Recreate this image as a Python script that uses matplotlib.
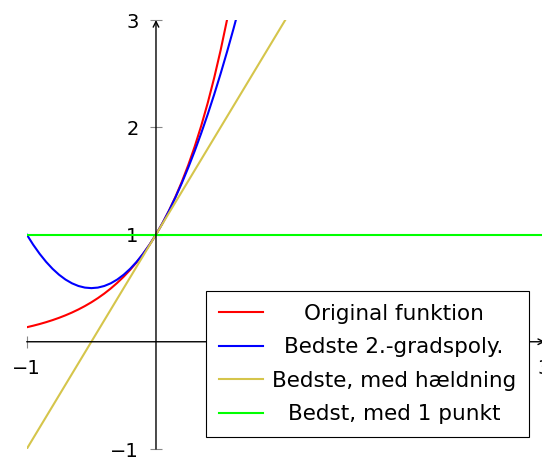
import matplotlib
matplotlib.use('Agg')
import matplotlib.pyplot as plt

# original function, sampled
x_orig = [-1.0, -0.95, -0.9, -0.85, -0.8, -0.75, -0.7, -0.65, -0.6, -0.55,
          -0.5, -0.45, -0.4, -0.35, -0.3, -0.25, -0.2, -0.15, -0.1, -0.05,
          0.0, 0.05, 0.1, 0.15, 0.2, 0.25, 0.3, 0.35, 0.4, 0.45, 0.5, 0.55]
y_orig = [0.1353, 0.1496, 0.1653, 0.1827, 0.2019, 0.2231, 0.2466, 0.2725,
          0.3012, 0.3329, 0.3679, 0.4066, 0.4493, 0.4966, 0.5488, 0.6065,
          0.6703, 0.7408, 0.8187, 0.9048, 1.0, 1.1052, 1.2214, 1.3499,
          1.4918, 1.6487, 1.8221, 2.0138, 2.2255, 2.4596, 2.7183, 3.0042]

# best 2nd degree polynomial
x_quad = [-1.0, -0.95, -0.9, -0.85, -0.8, -0.75, -0.7, -0.65, -0.6, -0.55,
          -0.5, -0.45, -0.4, -0.35, -0.3, -0.25, -0.2, -0.15, -0.1, -0.05,
          0.0, 0.05, 0.1, 0.15, 0.2, 0.25, 0.3, 0.35, 0.4, 0.45, 0.5, 0.55,
          0.6, 0.65]
y_quad = [1.0, 0.905, 0.82, 0.745, 0.68, 0.625, 0.58, 0.545, 0.52, 0.505,
          0.5, 0.505, 0.52, 0.545, 0.58, 0.625, 0.68, 0.745, 0.82, 0.905,
          1.0, 1.105, 1.22, 1.345, 1.48, 1.625, 1.78, 1.945, 2.12, 2.305,
          2.5, 2.705, 2.92, 3.145]

# tangent line and constant
x_lin = [-1.0, 1.0]
y_lin = [-1.0, 3.0]
x_const = [-1.0, 3.0]
y_const = [1.0, 1.0]

labels = ['Original funktion', 'Bedste 2.-gradspoly.',
          'Bedste, med hældning', 'Bedst, med 1 punkt']
colors = ['#ff0000', '#0000ff', '#d5c54b', '#00ff00']

xticks = [-1, 3]
yticks = [-1, 1, 2, 3]

plt.rcParams['font.family'] = ['DejaVu Sans']

fig = plt.figure(figsize=(5.42, 4.57), dpi=100)
ax = fig.add_axes([0.0493, 0.0175, 0.954, 0.9387])

lw = 1.5
ax.plot(x_orig, y_orig, color=colors[0], lw=lw, label=labels[0])
ax.plot(x_quad, y_quad, color=colors[1], lw=lw, label=labels[1])
ax.plot(x_lin, y_lin, color=colors[2], lw=lw, label=labels[2])
ax.plot(x_const, y_const, color=colors[3], lw=lw, label=labels[3])

ax.set_xlim(-1, 3)
ax.set_ylim(-1, 3)

# middle axis lines with arrows
for s in ax.spines.values():
    s.set_visible(False)
ax.spines['left'].set_position(('data', 0))
ax.spines['bottom'].set_position(('data', 0))
ax.annotate('', xy=(3.01, 0), xytext=(-1, 0),
            arrowprops=dict(arrowstyle='->', lw=1, color='black',
                            shrinkA=0, shrinkB=0), annotation_clip=False)
ax.annotate('', xy=(0, 3.0), xytext=(0, -1),
            arrowprops=dict(arrowstyle='->', lw=1, color='black',
                            shrinkA=0, shrinkB=0), annotation_clip=False)

ax.set_xticks(xticks)
ax.set_yticks(yticks)
ax.set_xticklabels(['\u22121', '3'])
ax.set_yticklabels(['\u22121', '1', '2', '3'])
ax.tick_params(direction='inout', length=9, width=0.8, color='#888888',
               labelsize=14, pad=8)

leg = ax.legend(loc='lower right', bbox_to_anchor=(0.976, 0.0438),
                bbox_transform=fig.transFigure, borderaxespad=0,
                fontsize=15.5, fancybox=False, framealpha=1,
                edgecolor='black', handlelength=2.05, labelspacing=0.62,
                borderpad=0.6, handletextpad=0.4)
leg.get_frame().set_linewidth(0.8)

# center the legend texts like the original
fig.canvas.draw()
renderer = fig.canvas.get_renderer()
texts = leg.get_texts()
widths = [t.get_window_extent(renderer).width for t in texts]
wmax = max(widths)
for t, w in zip(texts, widths):
    t.set_x((wmax - w) / 2)

fig.savefig('out.png', dpi=100)
